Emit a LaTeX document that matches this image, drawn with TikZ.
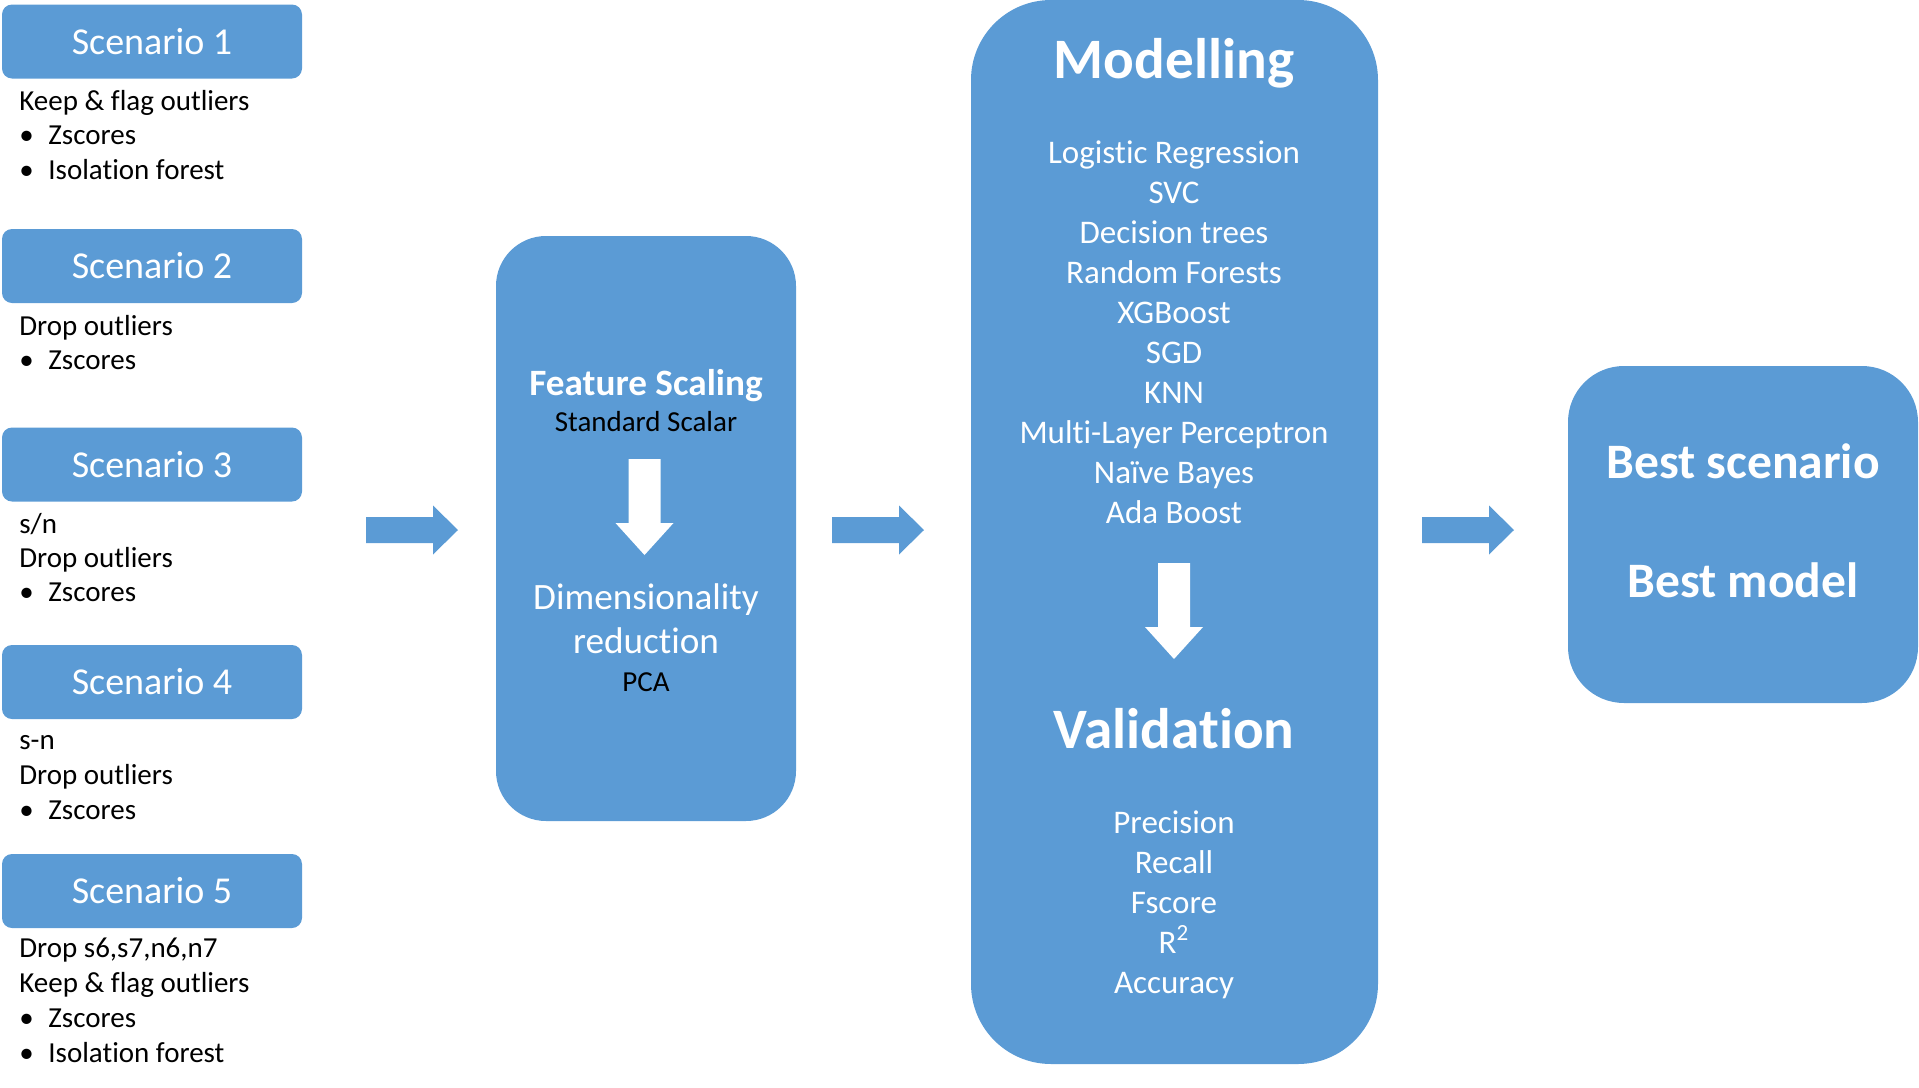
\documentclass[tikz,border=0pt]{standalone}
\usepackage{fontspec}
\setmainfont{Carlito}[Ligatures=NoCommon]
\definecolor{tileblue}{HTML}{5B9BD5}
\tikzset{
  scenbox/.style={fill=tileblue, rounded corners=5pt, minimum width=150pt,
    minimum height=37pt, inner sep=0pt, text=white,
    font=\fontsize{19}{23}\selectfont},
  notetext/.style={anchor=base west, inner sep=0pt,
    font=\fontsize{14.5}{17}\selectfont},
  stage/.style={fill=tileblue, inner sep=0pt},
  subhead/.style={anchor=base, inner sep=0pt, text=white,
    font=\fontsize{18.6}{22}\selectfont},
  smalltext/.style={anchor=base, inner sep=0pt,
    font=\fontsize{14.5}{17}\selectfont},
  head/.style={anchor=base, inner sep=0pt, text=white,
    font=\bfseries\fontsize{28.6}{34}\selectfont},
  item/.style={anchor=base, inner sep=0pt, text=white,
    font=\fontsize{16.5}{20}\selectfont},
  besttext/.style={anchor=base, inner sep=0pt, text=white,
    font=\bfseries\fontsize{24.8}{30}\selectfont}
}
\newcommand{\noteline}[3]{\node[notetext] (#1) at (19,#2) {#3};}
\newcommand{\bulletline}[3]{\node[notetext] (#1) at (19,#2) {\makebox[14.5pt][l]{\textbullet}#3};}
\newcommand{\rightblock}[1]{%
\fill[tileblue, shift={#1}] (0,-13) -- (67,-13) -- (67,-24.5) -- (92,0)
  -- (67,24.5) -- (67,13) -- (0,13) -- cycle;}
\newcommand{\downblock}[1]{%
\fill[white, shift={#1}] (-16,0) -- (-16,64) -- (-29,64) -- (0,96)
  -- (29,64) -- (16,64) -- (16,0) -- cycle;}

\begin{document}
\begin{tikzpicture}[x=0.5pt, y=-0.5pt]
\useasboundingbox (0,0) rectangle (1919,1088);
% scenarios
\foreach \i/\yc in {1/41.5,2/266,3/464.5,4/682,5/891}
  \node[scenbox] (scen\i) at (152,\yc) {Scenario \i};
\noteline{n1a}{110}{Keep \& flag outliers}
\bulletline{n1b}{144.5}{Zscores}
\bulletline{n1c}{179}{Isolation forest}
\noteline{n2a}{335}{Drop outliers}
\bulletline{n2b}{369}{Zscores}
\noteline{n3a}{533}{s/n}
\noteline{n3b}{567}{Drop outliers}
\bulletline{n3c}{601}{Zscores}
\noteline{n4a}{749}{s-n}
\noteline{n4b}{784}{Drop outliers}
\bulletline{n4c}{819}{Zscores}
\noteline{n5a}{957}{Drop s6,s7,n6,n7}
\noteline{n5b}{992}{Keep \& flag outliers}
\bulletline{n5c}{1027}{Zscores}
\bulletline{n5d}{1062}{Isolation forest}
% preprocessing
\node[stage, rounded corners=25pt, minimum width=150pt, minimum height=292.5pt] (prep) at (646,528.5) {};
\node[subhead] (fscale) at (646,395) {\bfseries Feature Scaling};
\node[smalltext] (stdsc) at (646,431) {Standard Scalar};
\downblock{(644.5,459)}
\node[subhead] (dimred) at (646,609) {Dimensionality};
\node[subhead] (reduc) at (646,653) {reduction};
\node[smalltext] (pca) at (646,691) {PCA};
% modelling and validation
\node[stage, rounded corners=40pt, minimum width=203.5pt, minimum height=532pt] (model) at (1174.5,532) {};
\node[head] (modhead) at (1174,78) {Modelling};
\foreach \alg [count=\i] in {Logistic Regression, SVC, Decision trees,
    Random Forests, XGBoost, SGD, KNN, Multi-Layer Perceptron, Naïve Bayes, Ada Boost}
  \node[item] (alg\i) at (1174,123+40*\i) {\alg};
\downblock{(1174,563)}
\node[head] (valhead) at (1174,748) {Validation};
\foreach \met [count=\i] in {Precision, Recall, Fscore, R\textsuperscript{2}, Accuracy}
  \node[item] (met\i) at (1174,793+40*\i) {\met};
% result
\node[stage, rounded corners=28pt, minimum width=175pt, minimum height=168.5pt] (best) at (1743,534.5) {};
\node[besttext] (bestscen) at (1743,478) {Best scenario};
\node[besttext] (bestmod) at (1743,597) {Best model};
% block arrows
\rightblock{(366,530)}
\rightblock{(832,530)}
\rightblock{(1422,530)}
\end{tikzpicture}
\end{document}
